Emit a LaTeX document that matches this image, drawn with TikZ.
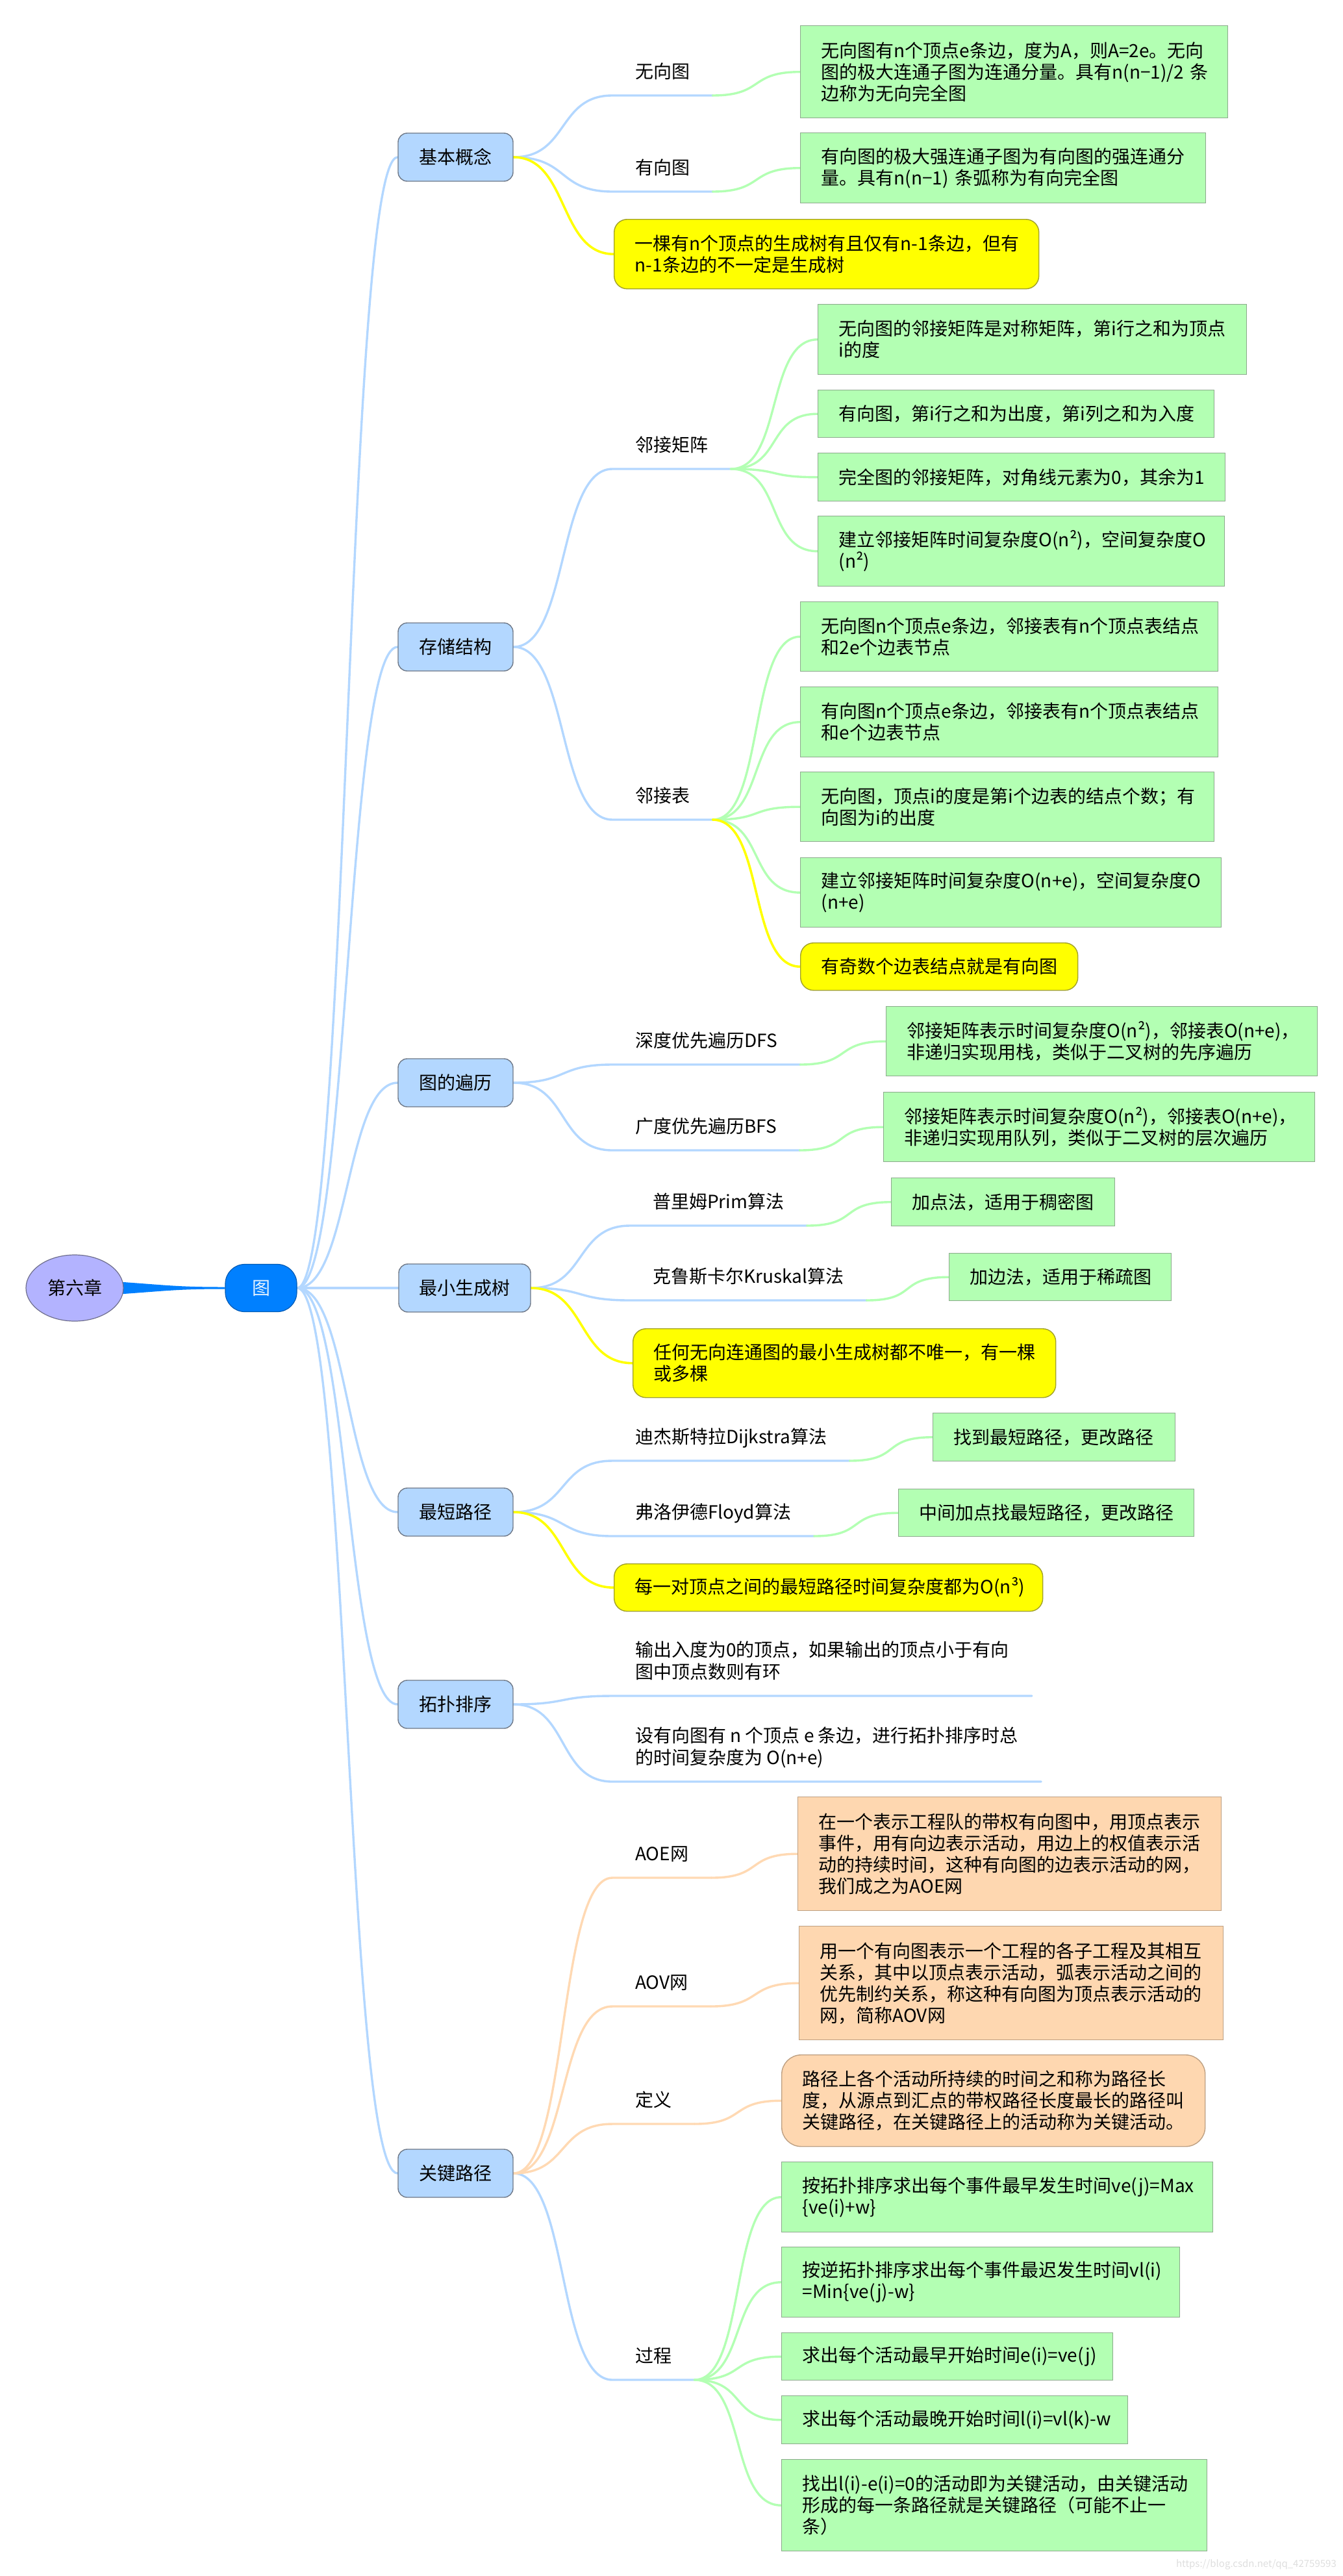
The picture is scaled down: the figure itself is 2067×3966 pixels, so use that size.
\documentclass[tikz,border=0pt]{standalone}
\usepackage{fontspec}
\setmainfont{Noto Sans CJK SC}
\usetikzlibrary{shapes.geometric,calc}
\definecolor{bline}{RGB}{179,215,255}
\definecolor{nfill}{RGB}{179,215,255}
\definecolor{nbd}{RGB}{110,120,135}
\definecolor{gline}{RGB}{179,255,179}
\definecolor{gfill}{RGB}{179,255,179}
\definecolor{gbd}{RGB}{140,170,140}
\definecolor{yfill}{RGB}{255,255,0}
\definecolor{ybd}{RGB}{160,160,40}
\definecolor{pfill}{RGB}{254,215,176}
\definecolor{pline}{RGB}{255,217,179}
\definecolor{pbd}{RGB}{190,160,130}
\definecolor{lav}{RGB}{179,179,255}
\definecolor{lavbd}{RGB}{110,110,140}
\definecolor{gcol}{RGB}{0,128,255}
\definecolor{gbdark}{RGB}{0,90,180}
\pgfdeclarelayer{bg}
\pgfsetlayers{bg,main}
\begin{document}
\begin{tikzpicture}[x=1pt,y=-1pt,
  every node/.style={font=\fontsize{28}{33}\selectfont},
  tbox/.style={anchor=north west, inner xsep=32pt, inner ysep=0pt, align=left, line width=1.4pt},
  gbox/.style={tbox, draw=gbd, fill=gfill},
  ybox/.style={tbox, draw=ybd, fill=yfill, rounded corners=20pt},
  pbox/.style={tbox, draw=pbd, fill=pfill},
  lvone/.style={draw=nbd, fill=nfill, rounded corners=14pt, minimum width=177pt, minimum height=74pt, line width=1.4pt, inner sep=0pt},
  lbl/.style={anchor=south west, inner xsep=35pt, inner ysep=0pt, text depth=26.4pt},
  bl/.style={draw=bline, line width=3.4pt, line cap=round},
  gl/.style={draw=gline, line width=3.4pt, line cap=round},
  yl/.style={draw=yfill, line width=3.6pt, line cap=round},
  pl/.style={draw=pline, line width=3.4pt, line cap=round}]
\useasboundingbox (0,0) rectangle (2067,3966);

% root and centre
\node[ellipse, draw=lavbd, fill=lav, minimum width=150pt, minimum height=102pt, inner sep=0pt, line width=1.2pt] (root) at (115,1983) {第六章};
\node[draw=gbdark, fill=gcol, rounded corners=30pt, minimum width=110pt, minimum height=73pt, inner sep=0pt, text=white!90!gcol, line width=1.2pt] (g) at (402,1983) {图};

% level one
\node[lvone] (n1) at (701.5,242) {基本概念};
\node[lvone] (n2) at (701.5,996) {存储结构};
\node[lvone] (n3) at (701.5,1667) {图的遍历};
\node[lvone, minimum width=203pt] (n4) at (715.5,1983) {最小生成树};
\node[lvone] (n5) at (701.5,2328) {最短路径};
\node[lvone] (n6) at (701.5,2624) {拓扑排序};
\node[lvone] (n7) at (701.5,3346) {关键路径};

% level two labels
\node[lbl] (l11) at (943,147) {无向图};
\node[lbl] (l12) at (943,295) {有向图};
\node[lbl] (l21) at (943,722) {邻接矩阵};
\node[lbl] (l22) at (943,1262) {邻接表};
\node[lbl] (l31) at (943,1639) {深度优先遍历DFS};
\node[lbl] (l32) at (943,1771) {广度优先遍历BFS};
\node[lbl] (l41) at (970,1887) {普里姆Prim算法};
\node[lbl] (l42) at (970,2002) {克鲁斯卡尔Kruskal算法};
\node[lbl] (l51) at (943,2249) {迪杰斯特拉Dijkstra算法};
\node[lbl] (l52) at (943,2365) {弗洛伊德Floyd算法};
\node[lbl] (l61) at (943,2611) {\begin{tabular}[b]{@{}l@{}}输出入度为0的顶点，如果输出的顶点小于有向\\图中顶点数则有环\end{tabular}};
\node[lbl] (l62) at (943,2743) {\begin{tabular}[b]{@{}l@{}}设有向图有~n~个顶点~e~条边，进行拓扑排序时总\\的时间复杂度为~O(n+e)\end{tabular}};
\node[lbl] (l71) at (943,2891) {AOE网};
\node[lbl] (l72) at (943,3089) {AOV网};
\node[lbl] (l73) at (943,3270) {定义};
\node[lbl] (l74) at (943,3664) {过程};

% boxes
\node[gbox, text width=594pt, minimum height=142pt] (a1) at (1232,39) {无向图有n个顶点e条边，度为A，则A=2e。无向\\图的极大连通子图为连通分量。具有n(n−1)/2~条\\边称为无向完全图};
\node[gbox, text width=560pt, minimum height=108pt] (a2) at (1232,204) {有向图的极大强连通子图为有向图的强连通分\\量。具有n(n−1)~条弧称为有向完全图};
\node[ybox, text width=590pt, minimum height=107pt] (y1) at (945,337) {\mbox{一棵有n个顶点的生成树有且仅有n-1条边，但有}\\\mbox{n-1条边的不一定是生成树}};

\node[gbox, text width=596pt, minimum height=108pt] (b1) at (1259,468) {无向图的邻接矩阵是对称矩阵，第i行之和为顶点\\i的度};
\node[gbox, text width=546pt, minimum height=73pt] (b2) at (1259,600) {有向图，第i行之和为出度，第i列之和为入度};
\node[gbox, text width=563pt, minimum height=74pt] (b3) at (1259,697) {完全图的邻接矩阵，对角线元素为0，其余为1};
\node[gbox, text width=562pt, minimum height=108pt] (b4) at (1259,794) {建立邻接矩阵时间复杂度O(n²)，空间复杂度O\\(n²)};
\node[gbox, text width=579pt, minimum height=107pt] (b5) at (1232,926) {无向图n个顶点e条边，邻接表有n个顶点表结点\\和2e个边表节点};
\node[gbox, text width=579pt, minimum height=108pt] (b6) at (1232,1057) {有向图n个顶点e条边，邻接表有n个顶点表结点\\和e个边表节点};
\node[gbox, text width=573pt, minimum height=107pt] (b7) at (1232,1188) {无向图，顶点i的度是第i个边表的结点个数；有\\向图为i的出度};
\node[gbox, text width=584pt, minimum height=107pt] (b8) at (1232,1320) {建立邻接矩阵时间复杂度O(n+e)，空间复杂度O\\(n+e)};
\node[ybox, text width=363pt, minimum height=73pt] (y2) at (1232,1451) {有奇数个边表结点就是有向图};

\node[gbox, text width=600pt, minimum height=107pt] (c1) at (1364,1549) {邻接矩阵表示时间复杂度O(n²)，邻接表O(n+e)，\\非递归实现用栈，类似于二叉树的先序遍历};
\node[gbox, text width=600pt, minimum height=107pt] (c2) at (1360,1681) {邻接矩阵表示时间复杂度O(n²)，邻接表O(n+e)，\\非递归实现用队列，类似于二叉树的层次遍历};

\node[gbox, text width=280pt, minimum height=74pt] (d1) at (1372,1813) {加点法，适用于稠密图};
\node[gbox, text width=278pt, minimum height=73pt] (d2) at (1461,1929) {加边法，适用于稀疏图};
\node[ybox, text width=587pt, minimum height=106pt] (y3) at (974,2045) {任何无向连通图的最小生成树都不唯一，有一棵\\或多棵};

\node[gbox, text width=309pt, minimum height=74pt] (e1) at (1436,2175) {找到最短路径，更改路径};
\node[gbox, text width=391pt, minimum height=73pt] (e2) at (1383,2292) {中间加点找最短路径，更改路径};
\node[ybox, text width=596pt, minimum height=73pt] (y4) at (945,2407) {每一对顶点之间的最短路径时间复杂度都为O(n³)};

\node[pbox, text width=588pt, minimum height=175pt] (aoe) at (1228,2766) {在一个表示工程队的带权有向图中，用顶点表示\\事件，用有向边表示活动，用边上的权值表示活\\动的持续时间，这种有向图的边表示活动的网，\\我们成之为AOE网};
\node[pbox, text width=589pt, minimum height=175pt] (aov) at (1230,2965) {用一个有向图表示一个工程的各子工程及其相互\\关系，其中以顶点表示活动，弧表示活动之间的\\优先制约关系，称这种有向图为顶点表示活动的\\网，简称AOV网};
\node[pbox, rounded corners=30pt, text width=588pt, minimum height=141pt] (def) at (1203,3163) {路径上各个活动所持续的时间之和称为路径长\\度，从源点到汇点的带权路径长度最长的路径叫\\关键路径，在关键路径上的活动称为关键活动。};

\node[gbox, text width=600pt, minimum height=108pt] (f1) at (1203,3328) {按拓扑排序求出每个事件最早发生时间ve(j)=Max\\\{ve(i)+w\}};
\node[gbox, text width=549pt, minimum height=108pt] (f2) at (1203,3459) {按逆拓扑排序求出每个事件最迟发生时间vl(i)\\=Min\{ve(j)-w\}};
\node[gbox, text width=446pt, minimum height=73pt] (f3) at (1203,3591) {\mbox{求出每个活动最早开始时间e(i)=ve(j)}};
\node[gbox, text width=469pt, minimum height=74pt] (f4) at (1203,3688) {\mbox{求出每个活动最晚开始时间l(i)=vl(k)-w}};
\node[gbox, text width=591pt, minimum height=141pt] (f5) at (1203,3786) {\mbox{找出l(i)-e(i)=0的活动即为关键活动，由关键活动}\\形成的每一条路径就是关键路径（可能不止一\\条）};

\node[font=\fontsize{15}{18}\selectfont, text=black!13, anchor=east, inner sep=0pt] (wm) at (2058,3948) {https://blog.csdn.net/qq\_42759593};

\begin{pgfonlayer}{bg}
% root wedge
\fill[gcol] ($(root.center)+(0,-9)$) -- ($(root.east)+(0,-9)$) .. controls +(70,5) and +(-70,0) .. ($(g.west)+(0,-1.5)$) -- ($(g.west)+(0,1.5)$) .. controls +(-70,0) and +(70,-5) .. ($(root.east)+(0,9)$) -- ($(root.center)+(0,9)$) -- cycle;
% level one connectors
\foreach \n in {n1,n2,n3,n5,n6,n7}
  \draw[bl] (g.east) .. controls +(80,0) and +(-80,0) .. (\n.west);
\draw[bl] (g.east) -- (n4.west);
% level two connectors
\foreach \p/\l in {n1/l11,n1/l12,n2/l21,n2/l22,n3/l31,n3/l32,n4/l41,n4/l42,n5/l51,n5/l52,n6/l61,n6/l62,n7/l74}
  \draw[bl] (\p.east) .. controls +(85,0) and +(-85,0) .. (\l.south west) -- (\l.south east);
\foreach \l in {l71,l72,l73}
  \draw[pl] (n7.east) .. controls +(85,0) and +(-85,0) .. (\l.south west) -- (\l.south east);
\draw[yl] (n1.east) .. controls +(85,0) and +(-85,0) .. (y1.west);
\draw[yl] (n4.east) .. controls +(85,0) and +(-85,0) .. (y3.west);
\draw[yl] (n5.east) .. controls +(85,0) and +(-85,0) .. (y4.west);
% level three connectors
\foreach \l/\b in {l11/a1,l12/a2,l21/b1,l21/b2,l21/b3,l21/b4,l22/b5,l22/b6,l22/b7,l22/b8,l31/c1,l32/c2,l41/d1,l42/d2,l51/e1,l52/e2,l74/f1,l74/f2,l74/f3,l74/f4,l74/f5}
  \draw[gl] (\l.south east) .. controls +(80,0) and +(-80,0) .. (\b.west);
\draw[yl] (l22.south east) .. controls +(80,0) and +(-80,0) .. (y2.west);
\foreach \l/\b in {l71/aoe,l72/aov,l73/def}
  \draw[pl] (\l.south east) .. controls +(80,0) and +(-80,0) .. (\b.west);
\end{pgfonlayer}
\end{tikzpicture}
\end{document}
